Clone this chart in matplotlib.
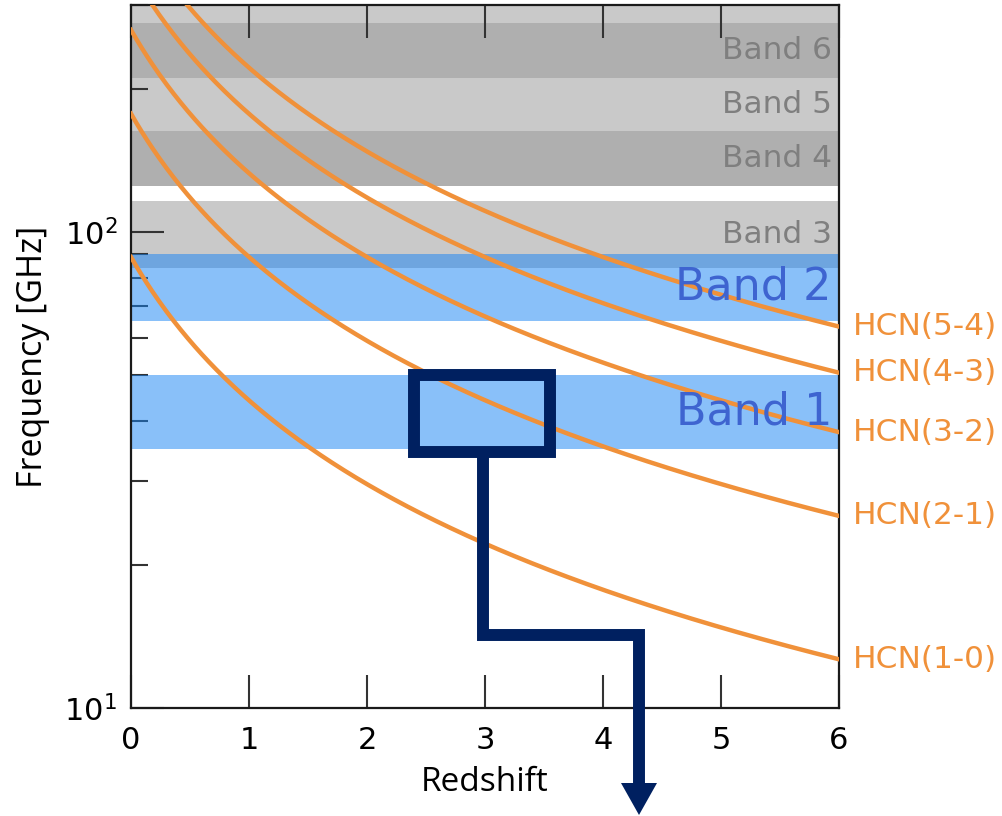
"""Redshifted HCN rotational lines against receiver band coverage."""
import numpy as np
import matplotlib

matplotlib.use("Agg")
import matplotlib.pyplot as plt
from matplotlib.lines import Line2D
from matplotlib.patches import Rectangle, Polygon
from matplotlib.ticker import NullFormatter

W, H = 1002, 816

# HCN transitions and rest frequencies (GHz)
line_names = ["HCN(1-0)", "HCN(2-1)", "HCN(3-2)", "HCN(4-3)", "HCN(5-4)"]
rest_ghz = [88.6, 177.3, 265.9, 354.5, 443.1]

# grey receiver bands (GHz); the top one runs off the axes unlabeled
gray_names = ["Band 3", "Band 4", "Band 5", "Band 6", ""]
gray_lo = [84, 125, 163, 211, 275]
gray_hi = [116, 163, 211, 275, 373]

# blue receiver bands (GHz)
blue_names = ["Band 1", "Band 2"]
blue_lo = [35, 65]
blue_hi = [50, 90]

# highlighted region (redshift range, frequency range)
zoom_z = [2.4, 3.55]
zoom_f = [34.5, 50]

Z_MAX = 6
F_MIN, F_MAX = 10, 300

ORANGE = "#F0913A"
NAVY = "#002060"
GRAY_TXT = "#7F7F7F"
BLUE_TXT = "#3E64D0"


def fig_xy(px, py):
    """pixel position (origin top-left) -> figure fraction"""
    return px / W, 1 - py / H


def main():
    fig = plt.figure(figsize=(W / 100, H / 100), dpi=100)
    ax = fig.add_axes([131 / W, 1 - 708 / H, (839 - 131) / W, (708 - 5) / H])
    ax.set_yscale("log")
    ax.set_xlim(0, Z_MAX)
    ax.set_ylim(F_MIN, F_MAX)

    # grey bands, alternating shade
    shades = ["#C9C9C9", "#AFAFAF"]
    for i, (name, lo, hi) in enumerate(zip(gray_names, gray_lo, gray_hi)):
        ax.axhspan(lo, hi, color=shades[i % 2], lw=0, zorder=1)
        if name:
            ax.text(5.94, np.sqrt(lo * hi), name, ha="right", va="center",
                    fontsize=22.5, color=GRAY_TXT, zorder=5)

    # blue bands, semi transparent so the overlap with Band 3 darkens
    for name, lo, hi in zip(blue_names, blue_lo, blue_hi):
        ax.axhspan(lo, hi, color="#1583F5", alpha=0.5, lw=0, zorder=2)
        ax.text(5.94, np.sqrt(lo * hi), name, ha="right", va="center",
                fontsize=32, color=BLUE_TXT, zorder=5)

    z = np.linspace(0, Z_MAX, 400)
    for name, f0 in zip(line_names, rest_ghz):
        ax.plot(z, f0 / (1 + z), color=ORANGE, lw=3.2, zorder=3)
        ax.annotate(name, xy=(Z_MAX, f0 / (1 + Z_MAX)), xytext=(10, 0),
                    textcoords="offset points", ha="left", va="center",
                    fontsize=22.5, color=ORANGE, annotation_clip=False)

    ax.set_xticks(range(0, Z_MAX + 1))
    ax.yaxis.set_minor_formatter(NullFormatter())
    ax.tick_params(which="both", direction="in", top=True, right=False,
                   color="#333333", width=1.5, labelsize=22)
    ax.tick_params(axis="x", pad=13)
    ax.tick_params(axis="y", pad=10)
    ax.tick_params(which="major", length=24)
    ax.tick_params(which="minor", length=12)
    for sp in ax.spines.values():
        sp.set_linewidth(1.6)
        sp.set_color("#1A1A1A")

    ax.set_xlabel("Redshift", fontsize=24, family="Open Sans", labelpad=8)
    ax.set_ylabel("Frequency [GHz]", fontsize=24.5, family="Open Sans", labelpad=10)

    # highlight box and the elbow arrow leading out of it
    ax.add_patch(Rectangle((zoom_z[0], zoom_f[0]), zoom_z[1] - zoom_z[0],
                           zoom_f[1] - zoom_f[0], fill=False, ec=NAVY,
                           lw=8.6, joinstyle="miter", zorder=6, clip_on=False))
    path = [fig_xy(483, 457), fig_xy(483, 635), fig_xy(639, 635), fig_xy(639, 785)]
    xs, ys = zip(*path)
    fig.add_artist(Line2D(xs, ys, transform=fig.transFigure, color=NAVY,
                          lw=8.6, solid_joinstyle="miter", solid_capstyle="butt",
                          zorder=6))
    head = [fig_xy(621, 783), fig_xy(657, 783), fig_xy(639, 815)]
    fig.add_artist(Polygon(head, closed=True, transform=fig.transFigure,
                           fc=NAVY, ec="none", zorder=6))

    fig.savefig("out.png", dpi=100)


if __name__ == "__main__":
    main()
